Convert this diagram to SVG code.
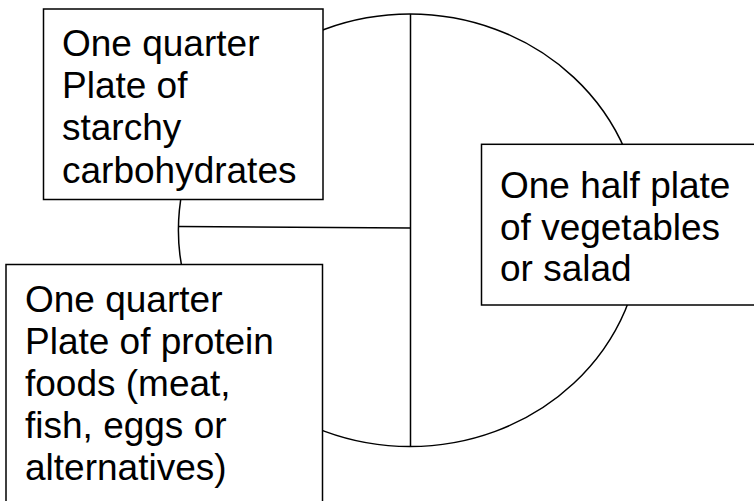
<svg xmlns="http://www.w3.org/2000/svg" width="754" height="501" viewBox="0 0 754 501">
<style>
.ln{fill:none;stroke:#000;stroke-width:1.5}
.box{fill:#fff;stroke:#000;stroke-width:1.5}
.t{font-family:"Liberation Sans",Arial,sans-serif;font-size:37px;fill:#000}
</style>
<rect width="754" height="501" fill="#fff"/>
<g id="connectors">
<ellipse class="ln" cx="410" cy="230.3" rx="231.6" ry="216.3"/>
<line class="ln" x1="410.5" y1="14" x2="410.5" y2="446.5"/>
<line class="ln" x1="179" y1="226.5" x2="410.5" y2="228"/>
</g>
<g id="starch">
<rect class="box" x="43.5" y="9" width="279.5" height="190.5"/>
<text class="t" x="62" y="56"><tspan x="62">One quarter</tspan><tspan x="62" dy="42.2">Plate of</tspan><tspan x="62" dy="42.2">starchy</tspan><tspan x="62" dy="42.2">carbohydrates</tspan></text>
</g>
<g id="protein">
<rect class="box" x="6" y="264.5" width="316.5" height="250"/>
<text class="t" x="25" y="312"><tspan x="25">One quarter</tspan><tspan x="25" dy="42">Plate of protein</tspan><tspan x="25" dy="42">foods (meat,</tspan><tspan x="25" dy="42">fish, eggs or</tspan><tspan x="25" dy="42">alternatives)</tspan></text>
</g>
<g id="veg">
<rect class="box" x="481.5" y="144.3" width="290" height="160.7"/>
<text class="t" x="500" y="198"><tspan x="500">One half plate</tspan><tspan x="500" dy="41.5">of vegetables</tspan><tspan x="500" dy="41.5">or salad</tspan></text>
</g>
</svg>
